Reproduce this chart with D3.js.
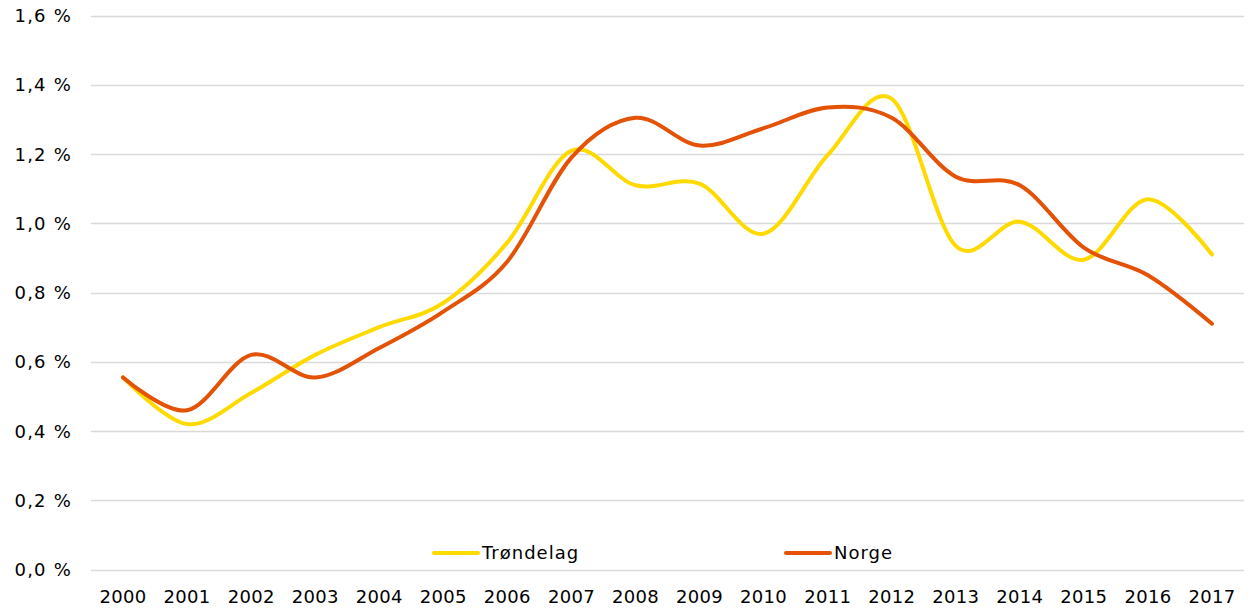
<!DOCTYPE html>
<html>
<head>
<meta charset="utf-8">
<script src="https://cdn.jsdelivr.net/npm/d3@7"></script>
<style>
  body { margin: 0; background: #fff; }
  svg text { font-family: "DejaVu Sans", Verdana, sans-serif; font-size: 18px; fill: #000; }
</style>
</head>
<body>
<svg id="chart" width="1254" height="608"></svg>
<script>
// years on the x axis
var years = ["2000","2001","2002","2003","2004","2005","2006","2007","2008",
             "2009","2010","2011","2012","2013","2014","2015","2016","2017"];

// values in percent
var trondelag = [0.555, 0.42, 0.51, 0.62, 0.70, 0.77, 0.945, 1.21, 1.11,
                 1.115, 0.97, 1.197, 1.36, 0.935, 1.005, 0.895, 1.07, 0.91];
var norge = [0.555, 0.46, 0.62, 0.555, 0.64, 0.745, 0.89, 1.19, 1.305,
             1.225, 1.275, 1.335, 1.305, 1.135, 1.11, 0.93, 0.85, 0.71];

var yTicks = [0, 0.2, 0.4, 0.6, 0.8, 1.0, 1.2, 1.4, 1.6];

var seriesNames = ["Trøndelag", "Norge"];
var seriesColors = ["#FFDA00", "#E35205"];

var svg = d3.select("#chart");

var x = d3.scaleBand().domain(years).range([91, 1244]);
var y = d3.scaleLinear().domain([0, 1.6]).range([569.5, 15.7]);

// gridlines
svg.append("g").selectAll("line")
    .data(yTicks)
    .enter()
    .append("line")
    .attr("x1", 91).attr("x2", 1244)
    .attr("y1", function(d){ return Math.round(y(d)) + 0.5; })
    .attr("y2", function(d){ return Math.round(y(d)) + 0.5; })
    .attr("stroke", "#d9d9d9")
    .attr("stroke-width", 1.5);

// y labels
svg.append("g").selectAll("text")
    .data(yTicks)
    .enter()
    .append("text")
    .attr("x", 72)
    .attr("y", function(d){ return y(d); })
    .attr("dy", "0.36em")
    .attr("text-anchor", "end")
    .style("letter-spacing", "1.2px")
    .text(function(d){ return d.toFixed(1).replace(".", ",") + " %"; });

// x labels
svg.append("g").selectAll("text")
    .data(years)
    .enter()
    .append("text")
    .attr("x", function(d){ return x(d) + x.bandwidth() / 2; })
    .attr("y", 603)
    .attr("text-anchor", "middle")
    .style("letter-spacing", "0.3px")
    .text(function(d){ return d; });

var line = d3.line()
    .x(function(d, i){ return x(years[i]) + x.bandwidth() / 2; })
    .y(function(d){ return y(d); })
    .curve(d3.curveCatmullRom.alpha(0));

[trondelag, norge].forEach(function(s, i){
    svg.append("path")
        .datum(s)
        .attr("d", line)
        .attr("fill", "none")
        .attr("stroke", seriesColors[i])
        .attr("stroke-width", 4)
        .attr("stroke-linecap", "round");
});

// legend
var legendX = [434, 786];
var lg = svg.append("g").selectAll("g")
    .data(seriesNames)
    .enter()
    .append("g")
    .attr("transform", function(d, i){ return "translate(" + legendX[i] + ",553)"; });
lg.append("line")
    .attr("x1", 0).attr("x2", 44)
    .attr("stroke", function(d, i){ return seriesColors[i]; })
    .attr("stroke-width", 4)
    .attr("stroke-linecap", "round");
lg.append("text")
    .attr("x", 48)
    .attr("y", 0)
    .attr("dy", "0.36em")
    .style("letter-spacing", "1px")
    .text(function(d){ return d; });
</script>
</body>
</html>
